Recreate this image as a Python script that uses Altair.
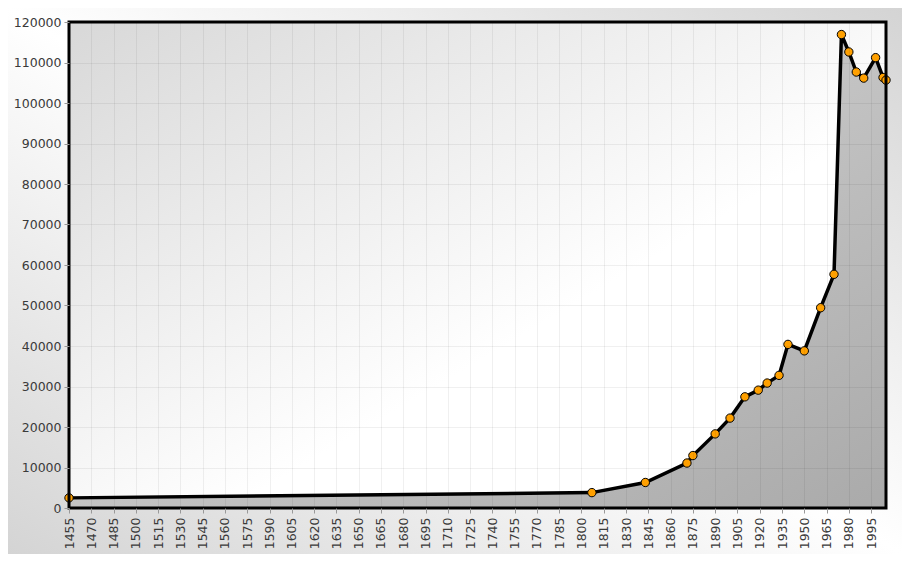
import pandas as pd
import altair as alt

# Einwohnerentwicklung
years = [1455, 1807, 1843, 1871, 1875, 1890, 1900, 1910, 1919, 1925, 1933,
         1939, 1950, 1961, 1970, 1975, 1980, 1985, 1990, 1998, 2003, 2005]
population = [2500, 3800, 6300, 11100, 12950, 18300, 22200, 27450, 29100, 30850, 32750,
              40400, 38800, 49450, 57700, 116900, 112600, 107650, 106150, 111200, 106300, 105650]
x_ticks = list(range(1455, 2000, 15))
y_ticks = list(range(0, 120001, 10000))

source = pd.DataFrame({"jahr": years, "einwohner": population})
one = pd.DataFrame({"a": [0]})

W, H = 817, 486

x_enc = alt.X("jahr:Q", title=None,
              scale=alt.Scale(domain=[1455, 2005], nice=False, zero=False),
              axis=alt.Axis(values=x_ticks, labelAngle=270, format="d", zindex=1,
                            labelPadding=4, labelOverlap=False, labelFlush=False,
                            labelBound=False))
y_enc = alt.Y("einwohner:Q", title=None,
              scale=alt.Scale(domain=[0, 120000], nice=False),
              axis=alt.Axis(values=y_ticks, format="d", zindex=1, labelPadding=3,
                            labelOverlap=False, labelFlush=False))

# Hintergrund außen
outer = alt.Chart(one).mark_rect(
    fill=alt.Gradient(gradient="linear", x1=1, y1=0, x2=0, y2=1,
                      stops=[alt.GradientStop(color="#d4d4d4", offset=0),
                             alt.GradientStop(color="#ffffff", offset=0.5),
                             alt.GradientStop(color="#d4d4d4", offset=1)])
).encode(x=alt.value(-61), x2=alt.value(W + 16), y=alt.value(-14), y2=alt.value(H + 46))

# Hintergrund Diagramm
inner = alt.Chart(one).mark_rect(
    fill=alt.Gradient(gradient="linear", x1=0, y1=0, x2=0.6, y2=0.6,
                      stops=[alt.GradientStop(color="#d8d8d8", offset=0),
                             alt.GradientStop(color="#ffffff", offset=1)])
).encode(x=alt.value(0), x2=alt.value(W), y=alt.value(0), y2=alt.value(H))

area = alt.Chart(source).mark_area(
    color=alt.Gradient(gradient="linear", x1=0, y1=0, x2=1, y2=1,
                       stops=[alt.GradientStop(color="#dedede", offset=0),
                              alt.GradientStop(color="#aaaaaa", offset=1)])
).encode(x=x_enc, y=y_enc)

line = alt.Chart(source).mark_line(color="black", strokeWidth=3.5).encode(x=x_enc, y=y_enc)

points = alt.Chart(source).mark_point(
    filled=True, fill="#ffa000", stroke="black", strokeWidth=1, size=70, opacity=1
).encode(x=x_enc, y=y_enc)

# Rahmen
frame = alt.Chart(one).mark_rect(
    filled=False, stroke="black", strokeWidth=3
).encode(x=alt.value(0), x2=alt.value(W), y=alt.value(0), y2=alt.value(H))

chart = alt.layer(outer, inner, area, line, points, frame).properties(
    width=W, height=H,
    padding={"left": 61, "top": 14, "right": 16, "bottom": 46},
    autosize=alt.AutoSizeParams(type="none"),
    background="#e4e4e4",
).configure_view(
    strokeWidth=0
).configure_axis(
    labelFont="DejaVu Sans", labelFontSize=12.5, labelColor="#3a3a3a",
    gridColor="#000000", gridOpacity=0.06, tickColor="#999999", tickSize=5,
    domain=False, labelOverlap=False
)

chart.save("out.html", embed_options={"renderer": "svg", "actions": False})
